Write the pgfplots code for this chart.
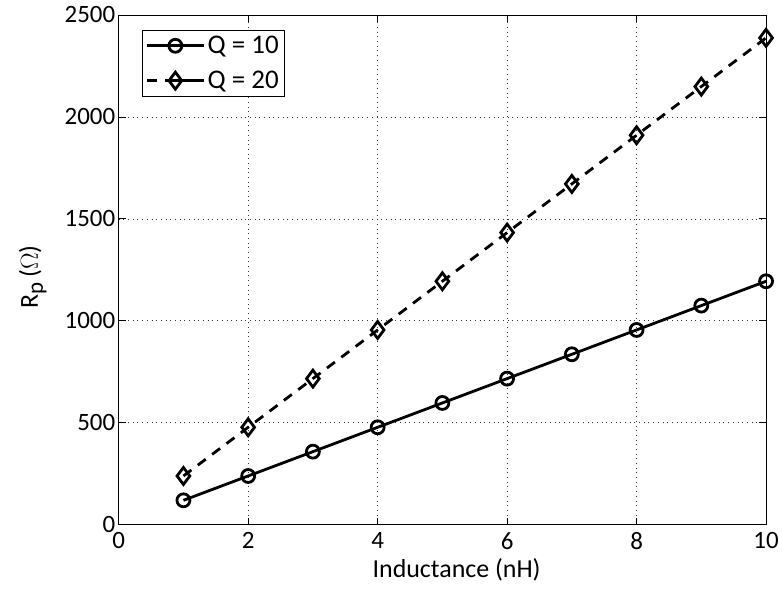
\documentclass[border=0pt]{standalone}
\usepackage{pgfplots}
\pgfplotsset{compat=1.18}
\usepackage{fontspec}
\setmainfont{Carlito}
\begin{document}
\begin{tikzpicture}
\begin{axis}[
  scale only axis,
  width=649bp, height=511bp,
  xmin=0, xmax=10, ymin=0, ymax=2500,
  xtick={0,2,4,6,8,10},
  ytick={0,500,1000,1500,2000,2500},
  tick align=inside,
  major tick length=7bp,
  grid=major,
  major grid style={black!80, line width=0.6bp, dash pattern=on 0.7bp off 4bp},
  axis line style={black, line width=0.8bp},
  tick style={black, line width=0.8bp},
  /pgf/number format/assume math mode=true,
  /pgf/number format/1000 sep={},
  ticklabel style={font=\fontsize{25bp}{30bp}\selectfont},
  xticklabel style={yshift=-4bp},
  xlabel={Inductance (nH)},
  ylabel={R\raisebox{-5bp}{\fontsize{23bp}{26bp}\selectfont p}\,($\Omega$)},
  label style={font=\fontsize{26bp}{30bp}\selectfont, inner sep=0pt},
  xlabel style={at={(axis description cs:0.522,0)}, anchor=north, yshift=-34bp},
  ylabel style={at={(axis description cs:-0.111,0.486)}, anchor=south},
  clip=false,
  legend style={at={(axis cs:0,2500)}, xshift=23bp, yshift=-15bp, anchor=north west, draw=black, line width=0.8bp,
    font=\fontsize{27bp}{31bp}\selectfont, inner xsep=4bp, inner ysep=4bp, row sep=12bp},
  legend cell align=left,
  legend image code/.code={
    \draw[#1] (0bp,0bp) -- (28bp,0bp);
    \draw[#1, mark repeat=2, mark phase=2] plot coordinates {(0bp,0bp) (28bp,0bp) (57bp,0bp)};
    \draw[#1] (28bp,0bp) -- (57bp,0bp);
  },
]
\addplot[black, line width=2.8bp, mark=o, mark size=6.5bp, mark options={solid, line width=2.8bp}]
coordinates {(1,119.4) (2,238.8) (3,358.1) (4,477.5) (5,596.9) (6,716.3) (7,835.7) (8,955.0) (9,1074.4) (10,1193.8)};
\addlegendentry{Q = 10}
\addplot[black, line width=2.8bp, dash pattern=on 10bp off 8bp, mark=diamond, mark size=8.5bp, mark options={solid, line width=2.8bp}]
coordinates {(1,238.8) (2,477.5) (3,716.3) (4,955.0) (5,1193.8) (6,1432.6) (7,1671.3) (8,1910.1) (9,2148.8) (10,2387.6)};
\addlegendentry{Q = 20}
\end{axis}
\path (current axis.south west) ++(-119bp,-69bp) coordinate (bbA);
\path (current axis.north east) ++(14bp,15bp) coordinate (bbB);
\path (bbA) rectangle (bbB);
\end{tikzpicture}
\end{document}
